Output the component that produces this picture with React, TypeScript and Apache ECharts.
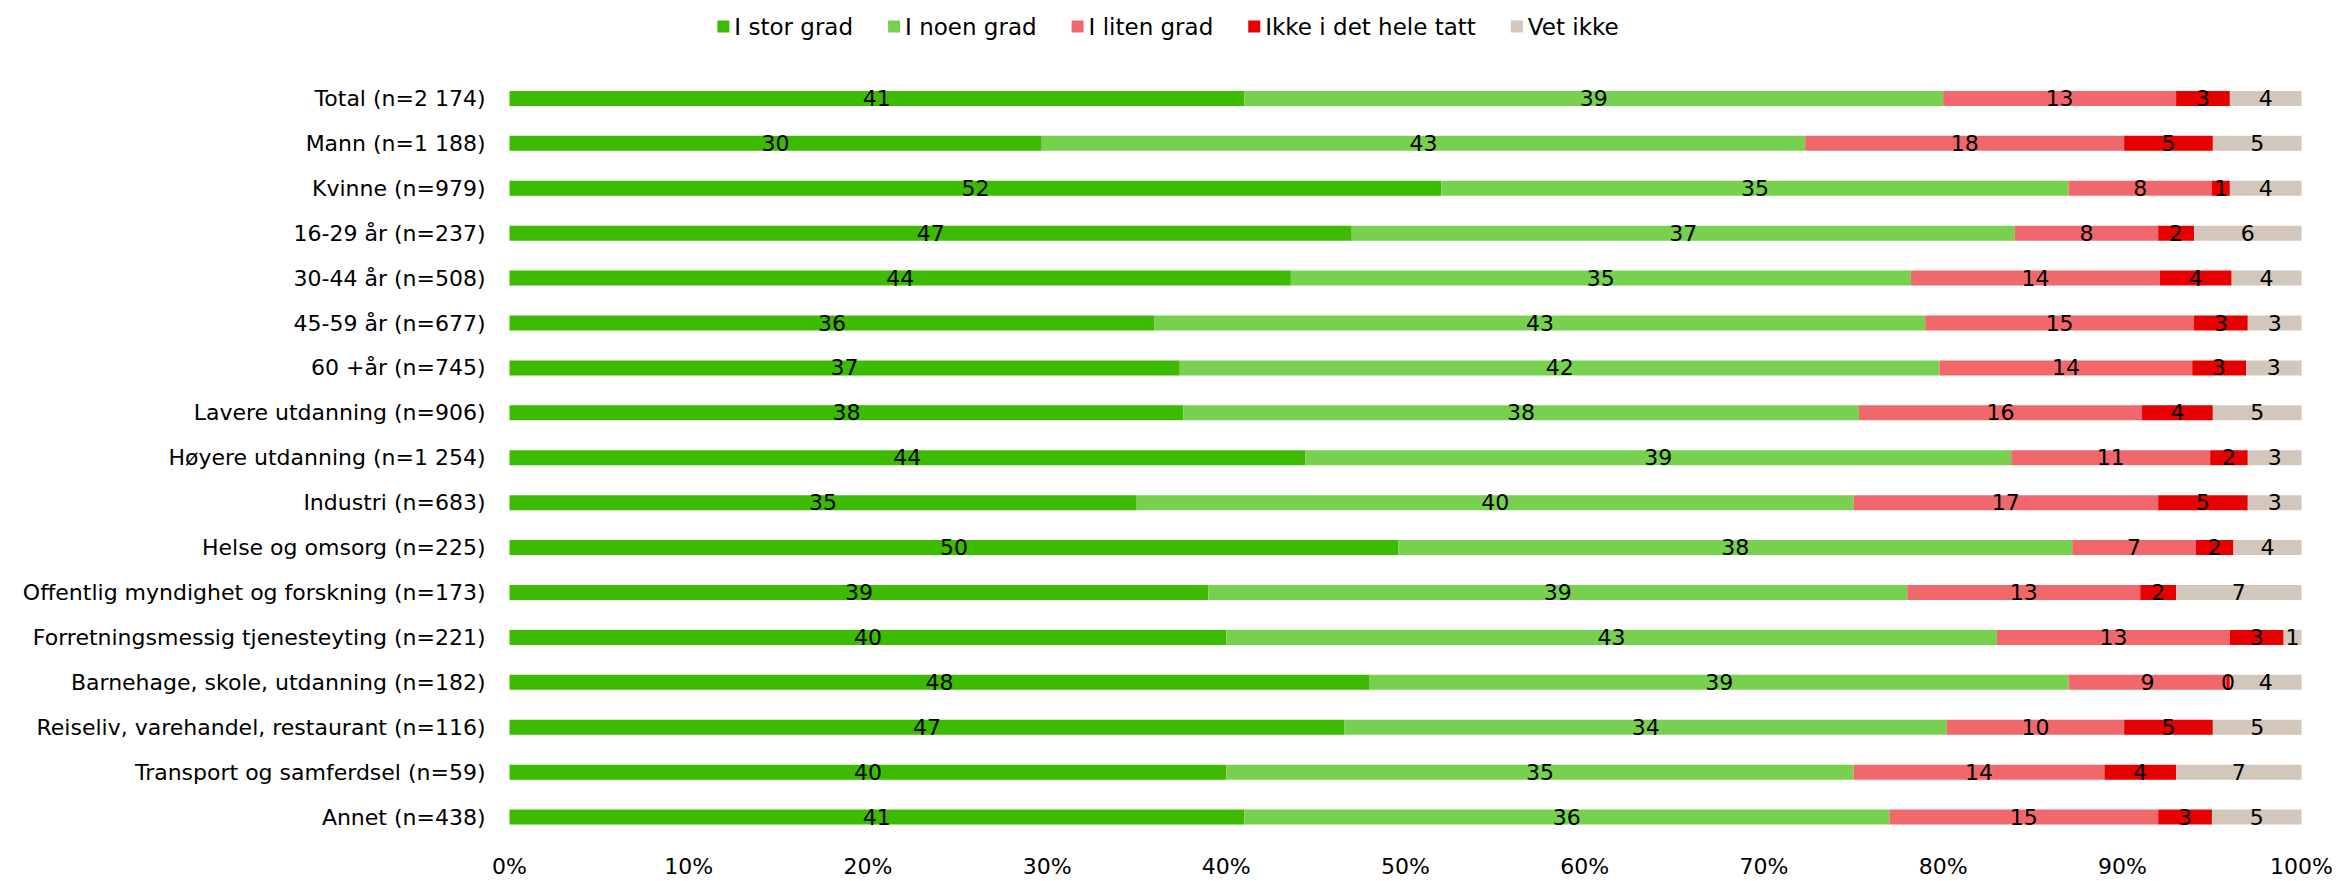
import React, { useEffect, useRef } from "react";
import * as echarts from "echarts";

const categories = [
  "Total (n=2 174)",
  "Mann (n=1 188)",
  "Kvinne (n=979)",
  "16-29 år (n=237)",
  "30-44 år (n=508)",
  "45-59 år (n=677)",
  "60 +år (n=745)",
  "Lavere utdanning (n=906)",
  "Høyere utdanning (n=1 254)",
  "Industri (n=683)",
  "Helse og omsorg (n=225)",
  "Offentlig myndighet og forskning (n=173)",
  "Forretningsmessig tjenesteyting (n=221)",
  "Barnehage, skole, utdanning (n=182)",
  "Reiseliv, varehandel, restaurant (n=116)",
  "Transport og samferdsel (n=59)",
  "Annet (n=438)",
];

const seriesNames = ["I stor grad", "I noen grad", "I liten grad", "Ikke i det hele tatt", "Vet ikke"];

const iStorGrad = [41.0, 29.7, 52.0, 47.0, 43.6, 36.0, 37.4, 37.6, 44.4, 35.0, 49.6, 39.0, 40.0, 48.0, 46.6, 40.0, 41.0];
const iNoenGrad = [39.0, 42.6, 35.0, 37.0, 34.6, 43.0, 42.4, 37.7, 39.4, 40.0, 37.6, 39.0, 43.0, 39.0, 33.6, 35.0, 36.0];
const iLitenGrad = [13.0, 17.8, 8.0, 8.0, 13.9, 15.0, 14.1, 15.8, 11.1, 17.0, 6.9, 13.0, 13.0, 8.8, 9.9, 14.0, 15.0];
const ikkeIDetHeleTatt = [3.0, 4.95, 1.0, 2.0, 4.0, 3.0, 3.0, 3.95, 2.1, 5.0, 2.1, 2.0, 3.0, 0.2, 4.95, 4.0, 3.0];
const vetIkke = [4.0, 4.95, 4.0, 6.0, 3.9, 3.0, 3.1, 4.95, 3.0, 3.0, 3.8, 7.0, 1.0, 4.0, 4.95, 7.0, 5.0];

const seriesData = [iStorGrad, iNoenGrad, iLitenGrad, ikkeIDetHeleTatt, vetIkke];
const colors = ["#3dbb00", "#77d14f", "#f0686b", "#e60000", "#d3c6bb"];

const FONT = "'DejaVu Sans', sans-serif";
const FS = 22;

export default function App() {
  const ref = useRef<HTMLDivElement>(null);

  useEffect(() => {
    document.body.style.margin = "0";
    if (!ref.current) return;
    const chart = echarts.init(ref.current, null, { renderer: "svg" });
    chart.setOption({
      animation: false,
      backgroundColor: "#ffffff",
      textStyle: { fontFamily: FONT },
      legend: {
        top: 10,
        left: "center",
        itemWidth: 12,
        itemHeight: 12,
        itemGap: 35,
        icon: "rect",
        textStyle: { fontSize: 23, color: "#000", fontFamily: FONT },
        data: seriesNames,
      },
      grid: { left: 509.5, right: 32.5, top: 76, bottom: 41.5, containLabel: false },
      xAxis: {
        type: "value",
        min: 0,
        max: 100,
        interval: 10,
        axisLine: { show: false },
        axisTick: { show: false },
        splitLine: { show: false },
        axisLabel: { formatter: "{value}%", fontSize: FS, color: "#000", fontFamily: FONT, margin: 16 },
      },
      yAxis: {
        type: "category",
        data: categories,
        inverse: true,
        axisLine: { show: false },
        axisTick: { show: false },
        axisLabel: { fontSize: FS, color: "#000", fontFamily: FONT, margin: 24 },
      },
      series: seriesData.map((d, i) => ({
        name: seriesNames[i],
        type: "bar",
        stack: "total",
        barWidth: 15,
        data: d,
        itemStyle: { color: colors[i] },
        label: {
          show: true,
          position: "inside",
          color: "#000",
          fontSize: FS,
          fontFamily: FONT,
          formatter: (p: any) => String(Math.round(p.value)),
        },
      })),
    });
    return () => chart.dispose();
  }, []);

  return <div ref={ref} style={{ width: 2336, height: 881 }} />;
}
